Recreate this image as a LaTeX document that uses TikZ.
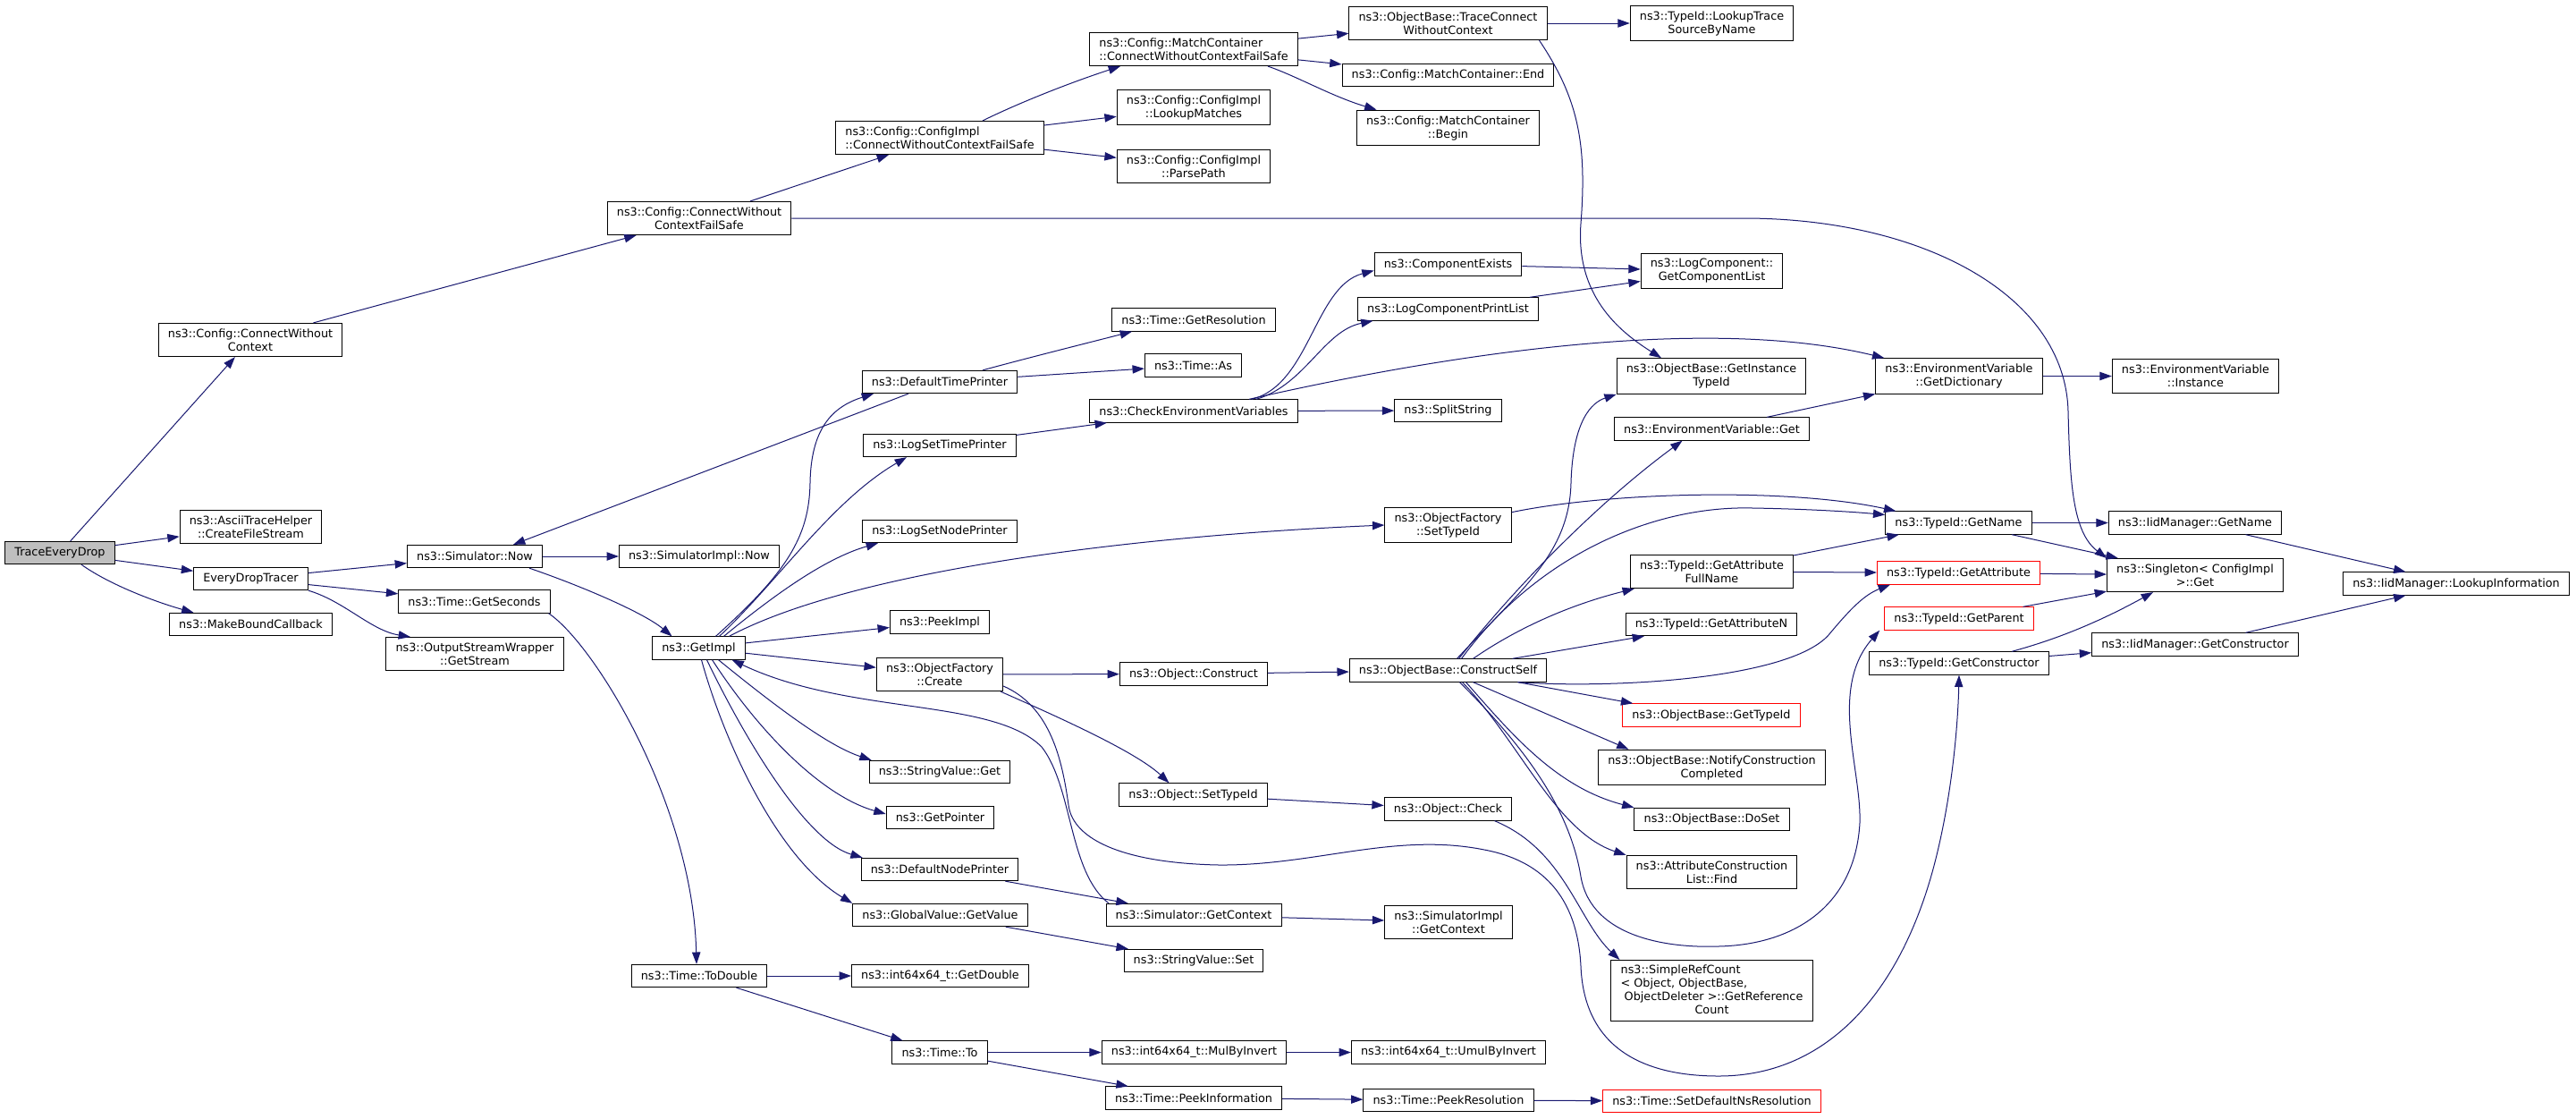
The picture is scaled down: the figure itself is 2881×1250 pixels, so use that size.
\documentclass[tikz,border=0pt]{standalone}
\usepackage{fontspec}
\setmainfont{DejaVu Sans}
\usetikzlibrary{calc, arrows.meta}
\definecolor{midnight}{HTML}{191970}
\definecolor{truncred}{HTML}{FF0000}
\definecolor{rootgrey}{HTML}{BFBFBF}

\begin{document}
\begin{tikzpicture}[x=0.75pt,y=-0.75pt,>={Triangle[length=10pt,width=7pt]},
  fn/.style={draw=black,line width=.75pt,fill=white,inner xsep=8pt,inner ysep=4.6pt,minimum height=19pt,align=center,font=\fontsize{9.6}{11.25}\selectfont},
  fnroot/.style={fn,fill=rootgrey},
  fntrunc/.style={fn,draw=truncred},
  calls/.style={->,draw=midnight,line width=.75pt}]
\path [use as bounding box,fill=white] (0,0) rectangle (2881,1250);

\draw node [fnroot] (TED) at (67,618) {TraceEveryDrop};
\draw node [fn] (ATH) at (280.5,589) {ns3::AsciiTraceHelper\\::CreateFileStream};
\draw node [fn] (EDT) at (280.5,647) {EveryDropTracer};
\draw node [fn] (MBC) at (280.5,698) {ns3::MakeBoundCallback};
\draw node [fn] (CWC) at (280,380) {ns3::Config::ConnectWithout\\Context};
\draw node [fn] (CWCFS) at (782,244) {ns3::Config::ConnectWithout\\ContextFailSafe};
\draw node [fn,align=left] (CICWCFS) at (1051,154) {ns3::Config::ConfigImpl\\::ConnectWithoutContextFailSafe};
\draw node [fn,align=left] (MCCWCFS) at (1335,55) {ns3::Config::MatchContainer\\::ConnectWithoutContextFailSafe};
\draw node [fn] (LM) at (1335,120) {ns3::Config::ConfigImpl\\::LookupMatches};
\draw node [fn] (PP) at (1335,186) {ns3::Config::ConfigImpl\\::ParsePath};
\draw node [fn] (TCWC) at (1619.5,26) {ns3::ObjectBase::TraceConnect\\WithoutContext};
\draw node [fn] (LTSBN) at (1914.5,26) {ns3::TypeId::LookupTrace\\SourceByName};
\draw node [fn] (MCEnd) at (1619.5,84) {ns3::Config::MatchContainer::End};
\draw node [fn] (MCBegin) at (1619.5,143) {ns3::Config::MatchContainer\\::Begin};
\draw node [fn] (SimNow) at (531,622) {ns3::Simulator::Now};
\draw node [fn] (SimImplNow) at (782,622) {ns3::SimulatorImpl::Now};
\draw node [fn] (GetSeconds) at (530.5,672.5) {ns3::Time::GetSeconds};
\draw node [fn] (OSW) at (531,731) {ns3::OutputStreamWrapper\\::GetStream};
\draw node [fn] (GetRes) at (1335,357.5) {ns3::Time::GetResolution};
\draw node [fn] (TimeAs) at (1334.5,408.5) {ns3::Time::As};
\draw node [fn] (DTP) at (1051,427) {ns3::DefaultTimePrinter};
\draw node [fn] (LSTP) at (1051,498) {ns3::LogSetTimePrinter};
\draw node [fn] (LSNP) at (1051,594) {ns3::LogSetNodePrinter};
\draw node [fn] (PeekImpl) at (1051,695.5) {ns3::PeekImpl};
\draw node [fn] (GetImpl) at (781.5,724.5) {ns3::GetImpl};
\draw node [fn] (OFCreate) at (1051,754) {ns3::ObjectFactory\\::Create};
\draw node [fn] (CEV) at (1335,459.5) {ns3::CheckEnvironmentVariables};
\draw node [fn] (ObjConstruct) at (1335,753.5) {ns3::Object::Construct};
\draw node [fn] (CompExists) at (1619.5,295.5) {ns3::ComponentExists};
\draw node [fn] (LCPL) at (1619.5,345.5) {ns3::LogComponentPrintList};
\draw node [fn] (GCL) at (1914.5,303) {ns3::LogComponent::\\GetComponentList};
\draw node [fn] (SplitString) at (1619.5,459) {ns3::SplitString};
\draw node [fn] (OFSetTypeId) at (1619.5,587) {ns3::ObjectFactory\\::SetTypeId};
\draw node [fn] (ConstructSelf) at (1619.5,749.5) {ns3::ObjectBase::ConstructSelf};
\draw node [fn] (GITI) at (1914,420.5) {ns3::ObjectBase::GetInstance\\TypeId};
\draw node [fn] (EVGet) at (1914.5,479.5) {ns3::EnvironmentVariable::Get};
\draw node [fn] (GAFN) at (1914.5,639) {ns3::TypeId::GetAttribute\\FullName};
\draw node [fn] (GAN) at (1914,698) {ns3::TypeId::GetAttributeN};
\draw node [fntrunc] (OBGetTypeId) at (1914,799.5) {ns3::ObjectBase::GetTypeId};
\draw node [fn] (NCC) at (1914.5,858) {ns3::ObjectBase::NotifyConstruction\\Completed};
\draw node [fn] (DoSet) at (1914.5,916) {ns3::ObjectBase::DoSet};
\draw node [fn] (ACLFind) at (1914.5,975) {ns3::AttributeConstruction\\List::Find};
\draw node [fn,inner ysep=3pt] (SRC) at (1914.5,1107.5) {\begin{tabular}{@{}l@{}}ns3::SimpleRefCount\\< Object, ObjectBase,\\\ ObjectDeleter >::GetReference\\\multicolumn{1}{@{}c@{}}{Count}\end{tabular}};
\draw node [fn] (EVGD) at (2191,420.5) {ns3::EnvironmentVariable\\::GetDictionary};
\draw node [fn] (EVInst) at (2455.5,420.5) {ns3::EnvironmentVariable\\::Instance};
\draw node [fn] (TIGetName) at (2190.5,584.5) {ns3::TypeId::GetName};
\draw node [fntrunc] (TIGetAttr) at (2190.5,640.5) {ns3::TypeId::GetAttribute};
\draw node [fntrunc] (TIGetParent) at (2191,691.5) {ns3::TypeId::GetParent};
\draw node [fn] (TIGetCtor) at (2191,741.5) {ns3::TypeId::GetConstructor};
\draw node [fn] (IMGetName) at (2455,584.5) {ns3::IidManager::GetName};
\draw node [fn] (Singleton) at (2455,643) {ns3::Singleton< ConfigImpl\\ >::Get};
\draw node [fn] (LookupInfo) at (2747,652.5) {ns3::IidManager::LookupInformation};
\draw node [fn] (IMGetCtor) at (2455,720.5) {ns3::IidManager::GetConstructor};
\draw node [fn] (SVGet) at (1051,863) {ns3::StringValue::Get};
\draw node [fn] (GetPointer) at (1051.5,914) {ns3::GetPointer};
\draw node [fn] (DNP) at (1051,972) {ns3::DefaultNodePrinter};
\draw node [fn] (GVGetValue) at (1051.5,1023) {ns3::GlobalValue::GetValue};
\draw node [fn] (ObjSetTypeId) at (1334.5,888.5) {ns3::Object::SetTypeId};
\draw node [fn] (SimGetContext) at (1335,1023) {ns3::Simulator::GetContext};
\draw node [fn] (SVSet) at (1335,1074) {ns3::StringValue::Set};
\draw node [fn] (ToDouble) at (782,1091) {ns3::Time::ToDouble};
\draw node [fn] (GetDouble) at (1051.5,1091) {ns3::int64x64\_t::GetDouble};
\draw node [fn] (TimeTo) at (1051,1176.5) {ns3::Time::To};
\draw node [fn] (MulByInvert) at (1335.5,1176.5) {ns3::int64x64\_t::MulByInvert};
\draw node [fn] (PeekInfo) at (1335,1227.5) {ns3::Time::PeekInformation};
\draw node [fn] (ObjCheck) at (1619.5,904.5) {ns3::Object::Check};
\draw node [fn] (SIGetContext) at (1620,1031) {ns3::SimulatorImpl\\::GetContext};
\draw node [fn] (UmulByInvert) at (1620,1176.5) {ns3::int64x64\_t::UmulByInvert};
\draw node [fn] (PeekRes) at (1620,1230) {ns3::Time::PeekResolution};
\draw node [fntrunc] (SetDefNs) at (1914.5,1231) {ns3::Time::SetDefaultNsResolution};

\draw [calls] (TED) -- (CWC);
\draw [calls] (TED) -- (ATH);
\draw [calls] (TED) -- (EDT);
\draw [calls] ($ (TED.south) + (24,0) $) .. controls (126,656) and (181,675) .. ($ (MBC.north) + (-64,0) $);
\draw [calls] (CWC) -- (CWCFS);
\draw [calls] (CWCFS) -- (CICWCFS);
\draw [calls] (CWCFS.east) -- (1950,244) .. controls (2150,244) and (2310,330) .. (2313,460) .. controls (2315,540) and (2318,595) .. (Singleton.north west);
\draw [calls] ($ (CICWCFS.north) + (48,0) $) .. controls (1150,110) and (1210,88) .. ($ (MCCWCFS.south) + (-82,0) $);
\draw [calls] (CICWCFS) -- (LM);
\draw [calls] (CICWCFS) -- (PP);
\draw [calls] (MCCWCFS) -- (TCWC);
\draw [calls] (MCCWCFS) -- (MCEnd);
\draw [calls] ($ (MCCWCFS.south) + (83,0) $) .. controls (1450,85) and (1490,108) .. ($ (MCBegin.north) + (-80,0) $);
\draw [calls] (TCWC) -- (LTSBN);
\draw [calls] ($ (TCWC.south) + (102,0) $) .. controls (1765,110) and (1775,160) .. (1768,250) .. controls (1762,330) and (1810,370) .. ($ (GITI.north) + (-56,0) $);

\draw [calls] (EDT) -- (SimNow);
\draw [calls] (EDT) -- (GetSeconds);
\draw [calls] (EDT.south east) .. controls (385,672) and (415,705) .. ($ (OSW.north) + (-72,0) $);
\draw [calls] (SimNow) -- (SimImplNow);
\draw [calls] ($ (SimNow.south) + (61,0) $) .. controls (650,655) and (720,685) .. ($ (GetImpl.north) + (-30,0) $);
\draw [calls] ($ (GetSeconds.south) + (83,0) $) .. controls (665,720) and (775,900) .. ($ (ToDouble.north) + (-3,0) $);
\draw [calls] ($ (DTP.north) + (48,0) $) .. controls (1150,400) and (1210,385) .. ($ (GetRes.south) + (-69,0) $);
\draw [calls] (DTP) -- (TimeAs);
\draw [calls] ($ (DTP.south) + (-35,0) $) -- ($ (SimNow.north) + (43,0) $);
\draw [calls] (LSTP) -- (CEV);
\draw [calls] ($ (CEV.north) + (65,0) $) .. controls (1465,430) and (1470,320) .. ($ (CompExists.west) + (0,7) $);
\draw [calls] ($ (CEV.north) + (70,0) $) .. controls (1460,430) and (1480,370) .. ($ (LCPL.south) + (-84,0) $);
\draw [calls] ($ (CEV.north) + (62,0) $) .. controls (1600,400) and (1900,350) .. ($ (EVGD.north west) + (10,0) $);
\draw [calls] (CEV) -- (SplitString);
\draw [calls] (CompExists) -- (GCL);
\draw [calls] (LCPL) -- (GCL);
\draw [calls] (EVGD) -- (EVInst);
\draw [calls] (EVGet) -- (EVGD);

\draw [calls] ($ (GetImpl.north) + (19,0) $) .. controls (880,640) and (905,600) .. (906,540) .. controls (907,480) and (930,455) .. ($ (DTP.south) + (-74,0) $);
\draw [calls] ($ (GetImpl.north) + (23,0) $) .. controls (870,650) and (930,560) .. ($ (LSTP.south) + (-37,0) $);
\draw [calls] ($ (GetImpl.north) + (28,0) $) .. controls (860,670) and (920,625) .. ($ (LSNP.south) + (-69,0) $);
\draw [calls] ($ (GetImpl.north) + (34,0) $) .. controls (950,640) and (1250,600) .. (OFSetTypeId.west);
\draw [calls] (GetImpl) -- (PeekImpl);
\draw [calls] (GetImpl) -- (OFCreate);
\draw [calls] ($ (GetImpl.south) + (22,0) $) .. controls (880,800) and (930,835) .. ($ (SVGet.north west) + (3,0) $);
\draw [calls] ($ (GetImpl.south) + (15,0) $) .. controls (850,820) and (920,890) .. ($ (GetPointer.west) + (0,-4) $);
\draw [calls] ($ (GetImpl.south) + (9,0) $) .. controls (830,820) and (900,940) .. ($ (DNP.north west) + (2,0) $);
\draw [calls] ($ (GetImpl.south) + (3,0) $) .. controls (810,830) and (870,960) .. (GVGetValue.north west);

\draw [calls] (OFCreate) -- (ObjConstruct);
\draw [calls] ($ (OFCreate.south) + (68,0) $) .. controls (1180,800) and (1270,840) .. ($ (ObjSetTypeId.north) + (-27,0) $);
\draw [calls] ($ (OFCreate.east) + (0,13) $) .. controls (1175,790) and (1188,850) .. (1195,900) .. controls (1200,940) and (1260,965) .. (1363,967) .. controls (1470,968) and (1560,930) .. (1660,950) .. controls (1740,965) and (1765,1020) .. (1768,1080) .. controls (1772,1180) and (1850,1203) .. (1922,1203) .. controls (2050,1203) and (2130,1100) .. (2165,960) .. controls (2185,880) and (2190,800) .. (TIGetCtor.south);

\draw [calls] (ObjConstruct) -- (ConstructSelf);
\draw [calls] ($ (ConstructSelf.north) + (10,0) $) .. controls (1700,660) and (1755,620) .. (1757,540) .. controls (1759,470) and (1780,450) .. (GITI.south west);
\draw [calls] ($ (ConstructSelf.north) + (12,0) $) .. controls (1700,650) and (1790,560) .. ($ (EVGet.south) + (-33,0) $);
\draw [calls] ($ (ConstructSelf.north) + (15,0) $) .. controls (1720,620) and (1850,565) .. (1960,568) .. controls (2020,569) and (2070,572) .. ($ (TIGetName.west) + (0,-9) $);
\draw [calls] ($ (ConstructSelf.north) + (28,0) $) .. controls (1700,700) and (1760,675) .. ($ (GAFN.south west) + (5,0) $);
\draw [calls] ($ (ConstructSelf.north) + (72,0) $) -- ($ (GAN.south) + (-75,0) $);
\draw [calls] ($ (ConstructSelf.south) + (78,0) $) .. controls (1800,770) and (2000,760) .. (2045,710) .. controls (2070,680) and (2085,665) .. ($ (TIGetAttr.south west) + (15,0) $);
\draw [calls] ($ (ConstructSelf.south) + (78,0) $) -- ($ (OBGetTypeId.north west) + (12,0) $);
\draw [calls] ($ (ConstructSelf.south) + (28,0) $) -- ($ (NCC.north) + (-93,0) $);
\draw [calls] ($ (ConstructSelf.south) + (20,0) $) .. controls (1690,820) and (1740,880) .. (DoSet.north west);
\draw [calls] ($ (ConstructSelf.south) + (16,0) $) .. controls (1700,830) and (1740,930) .. (ACLFind.north west);
\draw [calls] ($ (ConstructSelf.south) + (13,0) $) .. controls (1700,830) and (1755,900) .. (1768,980) .. controls (1780,1050) and (1870,1060) .. (1922,1058) .. controls (2010,1056) and (2075,1010) .. (2080,920) .. controls (2082,860) and (2045,770) .. ($ (TIGetParent.south west) + (-5,0) $);

\draw [calls] (GAFN) -- (TIGetName);
\draw [calls] (GAFN) -- (TIGetAttr);
\draw [calls] ($ (OFSetTypeId.north east) + (0,6) $) .. controls (1800,550) and (2000,545) .. ($ (TIGetName.north west) + (12,0) $);
\draw [calls] (TIGetName) -- (IMGetName);
\draw [calls] (TIGetName) -- (Singleton);
\draw [calls] (TIGetAttr) -- (Singleton);
\draw [calls] (TIGetParent) -- (Singleton);
\draw [calls] ($ (TIGetCtor.north) + (59,0) $) .. controls (2280,720) and (2330,705) .. ($ (Singleton.south) + (-47,0) $);
\draw [calls] (TIGetCtor) -- (IMGetCtor);
\draw [calls] (IMGetName) -- (LookupInfo);
\draw [calls] (IMGetCtor) -- (LookupInfo);

\draw [calls] (ObjSetTypeId) -- (ObjCheck);
\draw [calls] ($ (ObjCheck.south) + (52,0) $) .. controls (1750,950) and (1765,1030) .. ($ (SRC.north west) + (10,0) $);
\draw [calls] (DNP) -- (SimGetContext);
\draw [calls] ($ (SimGetContext.north) + (-95,0) $) .. controls (1195,975) and (1200,880) .. (1165,835) .. controls (1110,780) and (950,800) .. ($ (GetImpl.south) + (37,0) $);
\draw [calls] (SimGetContext) -- (SIGetContext);
\draw [calls] (GVGetValue) -- (SVSet);
\draw [calls] (ToDouble) -- (GetDouble);
\draw [calls] (ToDouble) -- (TimeTo);
\draw [calls] (TimeTo) -- (MulByInvert);
\draw [calls] (TimeTo) -- (PeekInfo);
\draw [calls] (MulByInvert) -- (UmulByInvert);
\draw [calls] (PeekInfo) -- (PeekRes);
\draw [calls] (PeekRes) -- (SetDefNs);
\end{tikzpicture}
\end{document}
